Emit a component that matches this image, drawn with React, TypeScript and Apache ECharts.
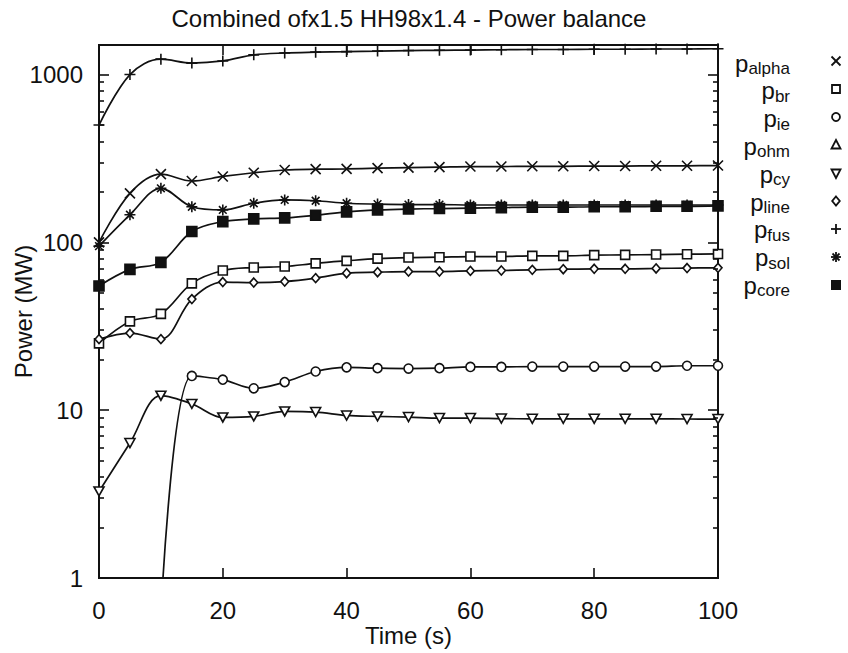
import React, { useEffect, useRef } from "react";
import * as echarts from "echarts";

const TIME = [0, 5, 10, 15, 20, 25, 30, 35, 40, 45, 50, 55, 60, 65, 70, 75, 80, 85, 90, 95, 100];

const P_ALPHA = [100, 196, 255, 232, 247, 260, 270, 273, 274, 277, 279, 281, 283, 283, 284, 284, 285, 285, 286, 286, 287];
const P_BR = [25, 33.8, 37.5, 57, 68, 70.8, 71.8, 75, 77.6, 80, 81.2, 81.6, 82.3, 82.3, 83.1, 83.1, 83.9, 84.2, 84.6, 85, 85.3];
const P_IE = [null, null, 0.6, 16.0, 15.2, 13.5, 14.7, 17.0, 18.0, 17.8, 17.7, 17.8, 18.1, 18.1, 18.2, 18.2, 18.2, 18.2, 18.2, 18.4, 18.4];
const P_OHM = [null, null, null, null, null, null, null, null, null, null, null, null, null, null, null, null, null, null, null, null, null];
const P_CY = [3.28, 6.37, 12.2, 10.9, 9.05, 9.18, 9.83, 9.75, 9.3, 9.18, 9.1, 8.97, 8.97, 8.91, 8.88, 8.88, 8.88, 8.88, 8.88, 8.86, 8.85];
const P_LINE = [26.5, 28.8, 26.5, 45.9, 58, 57.6, 58.4, 61.2, 65.5, 66.4, 67, 67, 67.6, 68, 68.6, 69.2, 69.6, 69.6, 69.9, 70.3, 70.5];
const P_FUS = [500, 1000, 1235, 1170, 1205, 1310, 1345, 1360, 1370, 1380, 1390, 1395, 1400, 1405, 1410, 1410, 1415, 1415, 1420, 1420, 1425];
const P_SOL = [95, 146, 210, 163, 156, 171, 179, 177, 171, 169, 168, 168, 167, 167, 167, 167, 167, 167, 167, 167, 167];
const P_CORE = [55, 69, 76, 116, 133, 138, 140, 145, 152, 156, 158, 159, 160, 161, 162, 162, 163, 163, 164, 164, 165];

const X_MIN = 0;
const X_MAX = 100;
const Y_MIN = 1;
const Y_MAX = 1500;
const X_TICKS = [0, 20, 40, 60, 80, 100];
const Y_MAJOR = [1, 10, 100, 1000];
const Y_MINOR = [2, 3, 4, 5, 6, 7, 8, 9, 20, 30, 40, 50, 60, 70, 80, 90, 200, 300, 400, 500, 600, 700, 800, 900];

const LEGEND_SUBS = ["alpha", "br", "ie", "ohm", "cy", "line", "fus", "sol", "core"];
const LEGEND_KINDS = ["cross", "square", "circle", "tup", "tdown", "diamond", "plus", "star", "fsquare"];

const FONT = "'Liberation Sans', Arial, Helvetica, sans-serif";
const INK = "#111";

const W = 848;
const H = 653;
const GRID = { left: 99, right: 130, top: 45, bottom: 75 };
const PLOT_W = W - GRID.left - GRID.right;
const PLOT_H = H - GRID.top - GRID.bottom;

const SYMBOLS: Record<string, any> = {
  cross: { symbol: "path://M0,0L10,10M0,10L10,0", size: 10, fill: "none" },
  square: { symbol: "rect", size: 9, fill: "#fff" },
  circle: { symbol: "circle", size: 9, fill: "#fff" },
  tup: { symbol: "triangle", size: 10, fill: "#fff" },
  tdown: { symbol: "path://M0,0L10,0L5,8.66Z", size: [10, 9], fill: "#fff" },
  diamond: { symbol: "diamond", size: [8, 9], fill: "#fff" },
  plus: { symbol: "path://M5,0L5,10M0,5L10,5", size: 11, fill: "none" },
  star: { symbol: "path://M5,0L5,10M0,5L10,5M1.5,1.5L8.5,8.5M1.5,8.5L8.5,1.5", size: 11, fill: "none" },
  fsquare: { symbol: "rect", size: 10, fill: INK },
};

function legendMarker(kind: string, cx: number, cy: number): any[] {
  const st = () => ({ stroke: INK, lineWidth: 1.8, fill: "none" });
  const h = 4.5;
  switch (kind) {
    case "cross":
      return [
        { type: "line", shape: { x1: cx - h, y1: cy - h, x2: cx + h, y2: cy + h }, style: st() },
        { type: "line", shape: { x1: cx - h, y1: cy + h, x2: cx + h, y2: cy - h }, style: st() },
      ];
    case "square":
      return [{ type: "rect", shape: { x: cx - 4, y: cy - 4, width: 8, height: 8 }, style: st() }];
    case "circle":
      return [{ type: "circle", shape: { cx, cy, r: 4 }, style: st() }];
    case "tup":
      return [{ type: "polygon", shape: { points: [[cx, cy - 5], [cx + 4.5, cy + 3.5], [cx - 4.5, cy + 3.5]] }, style: st() }];
    case "tdown":
      return [{ type: "polygon", shape: { points: [[cx - 4.5, cy - 3.5], [cx + 4.5, cy - 3.5], [cx, cy + 5]] }, style: st() }];
    case "diamond":
      return [{ type: "polygon", shape: { points: [[cx, cy - 4.5], [cx + 3.8, cy], [cx, cy + 4.5], [cx - 3.8, cy]] }, style: st() }];
    case "plus":
      return [
        { type: "line", shape: { x1: cx - 5, y1: cy, x2: cx + 5, y2: cy }, style: st() },
        { type: "line", shape: { x1: cx, y1: cy - 5, x2: cx, y2: cy + 5 }, style: st() },
      ];
    case "star":
      return [
        { type: "line", shape: { x1: cx - 5, y1: cy, x2: cx + 5, y2: cy }, style: st() },
        { type: "line", shape: { x1: cx, y1: cy - 5, x2: cx, y2: cy + 5 }, style: st() },
        { type: "line", shape: { x1: cx - 3.5, y1: cy - 3.5, x2: cx + 3.5, y2: cy + 3.5 }, style: st() },
        { type: "line", shape: { x1: cx - 3.5, y1: cy + 3.5, x2: cx + 3.5, y2: cy - 3.5 }, style: st() },
      ];
    case "fsquare":
      return [{ type: "rect", shape: { x: cx - 5, y: cy - 5, width: 10, height: 10 }, style: { fill: INK } }];
  }
  return [];
}

export default function App() {
  const ref = useRef<HTMLDivElement>(null);

  useEffect(() => {
    if (!ref.current) return;
    document.body.style.margin = "0";
    const chart = echarts.init(ref.current, null, { renderer: "svg" });

    const seriesDefs = [
      { name: "p_alpha", data: P_ALPHA, kind: "cross" },
      { name: "p_br", data: P_BR, kind: "square" },
      { name: "p_ie", data: P_IE, kind: "circle" },
      { name: "p_ohm", data: P_OHM, kind: "tup" },
      { name: "p_cy", data: P_CY, kind: "tdown" },
      { name: "p_line", data: P_LINE, kind: "diamond" },
      { name: "p_fus", data: P_FUS, kind: "plus" },
      { name: "p_sol", data: P_SOL, kind: "star" },
      { name: "p_core", data: P_CORE, kind: "fsquare" },
    ];

    const series: any[] = seriesDefs.map((s) => {
      const sym = SYMBOLS[s.kind];
      return {
        type: "line",
        name: s.name,
        data: TIME.map((t, i) => [t, s.data[i]]),
        smooth: 0.35,
        clip: true,
        connectNulls: false,
        showAllSymbol: true,
        symbol: sym.symbol,
        symbolSize: sym.size,
        lineStyle: { color: INK, width: 1.7 },
        itemStyle: { color: sym.fill, borderColor: INK, borderWidth: 1.6 },
        emphasis: { disabled: true },
        silent: true,
      };
    });

    // Tick marks as markLines in data space (tick length converted from pixels to axis units)
    const logSpan = Math.log10(Y_MAX) - Math.log10(Y_MIN);
    const yFactor = (px: number) => Math.pow(10, (px * logSpan) / PLOT_H);
    const xUnits = (px: number) => (px * (X_MAX - X_MIN)) / PLOT_W;
    const tickLines: any[] = [];
    X_TICKS.forEach((v) => {
      tickLines.push([{ coord: [v, Y_MIN] }, { coord: [v, Y_MIN * yFactor(10)] }]);
      tickLines.push([{ coord: [v, Y_MAX] }, { coord: [v, Y_MAX / yFactor(10)] }]);
    });
    const addYTick = (v: number, len: number) => {
      tickLines.push([{ coord: [X_MIN, v] }, { coord: [X_MIN + xUnits(len), v] }]);
      tickLines.push([{ coord: [X_MAX, v] }, { coord: [X_MAX - xUnits(len), v] }]);
    };
    Y_MAJOR.forEach((v) => addYTick(v, 10));
    Y_MINOR.forEach((v) => addYTick(v, 5));

    series.push({
      type: "line",
      name: "ticks",
      data: [[X_MIN, Y_MIN]],
      symbol: "none",
      lineStyle: { width: 0, opacity: 0 },
      clip: false,
      silent: true,
      z: 20,
      markLine: {
        silent: true,
        animation: false,
        symbol: ["none", "none"],
        label: { show: false },
        emphasis: { disabled: true },
        lineStyle: { color: INK, width: 1.6, type: "solid", opacity: 1 },
        data: tickLines,
      },
    });

    const axisLineStyle = { show: true, lineStyle: { color: INK, width: 2 } };

    const legendGraphics: any[] = [];
    LEGEND_SUBS.forEach((sub, i) => {
      legendGraphics.push({
        type: "text",
        x: 790,
        y: 63 + i * 27.8,
        style: {
          text: `{p|p}{s|${sub}}`,
          align: "right",
          verticalAlign: "middle",
          fill: INK,
          rich: {
            p: { fontSize: 24, fontFamily: FONT, fill: INK },
            s: { fontSize: 17, fontFamily: FONT, fill: INK, padding: [11, 0, 0, 0] },
          },
        },
      });
      legendGraphics.push(...legendMarker(LEGEND_KINDS[i], 836, 61 + i * 28));
    });

    chart.setOption({
      animation: false,
      backgroundColor: "#fff",
      title: {
        text: "Combined ofx1.5 HH98x1.4 - Power balance",
        left: 409,
        top: 6,
        textAlign: "center",
        padding: 0,
        textStyle: { fontSize: 24, fontWeight: "normal", fontFamily: FONT, color: INK },
      },
      grid: {
        ...GRID,
        containLabel: false,
        outerBoundsMode: "none",
        show: true,
        borderColor: INK,
        borderWidth: 2,
        backgroundColor: "transparent",
      },
      xAxis: {
        type: "value",
        position: "bottom",
        min: X_MIN,
        max: X_MAX,
        interval: 20,
        axisLine: axisLineStyle,
        splitLine: { show: false },
        axisTick: { show: false },
        axisLabel: { show: true, margin: 20, fontSize: 24, fontFamily: FONT, color: INK },
        name: "Time (s)",
        nameLocation: "middle",
        nameGap: 45,
        nameMoveOverlap: false,
        nameTextStyle: { fontSize: 24, fontFamily: FONT, color: INK },
      },
      yAxis: {
        type: "log",
        logBase: 10,
        position: "left",
        min: Y_MIN,
        max: Y_MAX,
        axisLine: axisLineStyle,
        splitLine: { show: false },
        axisTick: { show: false },
        minorTick: { show: false },
        axisLabel: {
          show: true,
          margin: 16,
          fontSize: 24,
          fontFamily: FONT,
          color: INK,
          showMaxLabel: false,
          formatter: (v: number) => (Y_MAJOR.indexOf(v) >= 0 ? String(v) : ""),
        },
        name: "Power (MW)",
        nameLocation: "middle",
        nameGap: 64,
        nameMoveOverlap: false,
        nameTextStyle: { fontSize: 24, fontFamily: FONT, color: INK },
      },
      series,
      graphic: legendGraphics,
    });

    return () => chart.dispose();
  }, []);

  return <div ref={ref} style={{ width: W, height: H }} />;
}
